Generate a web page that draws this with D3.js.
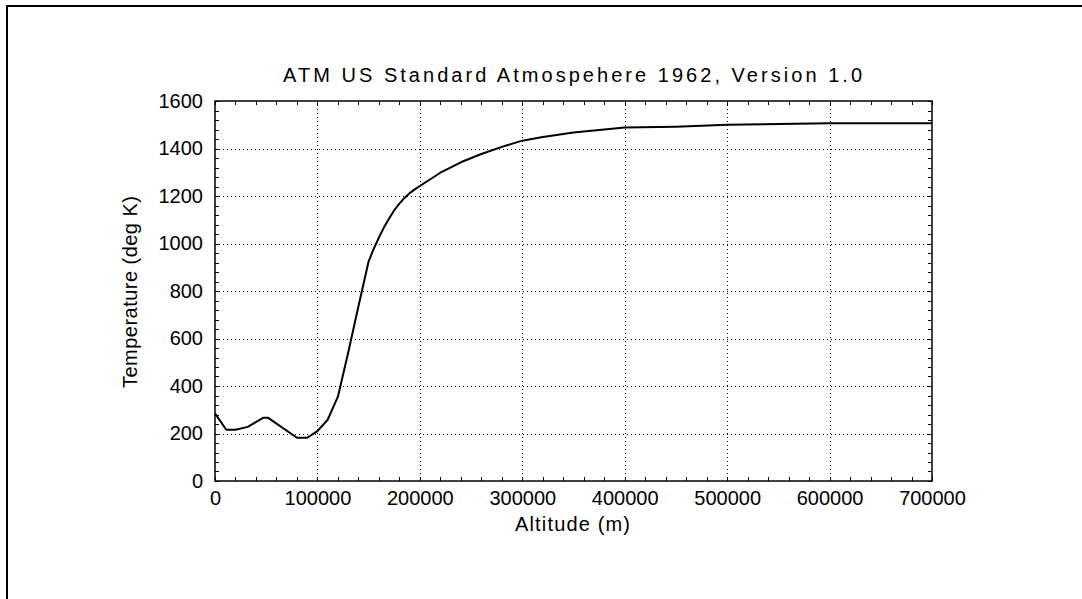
<!DOCTYPE html>
<html><head><meta charset="utf-8">
<script src="https://cdn.jsdelivr.net/npm/d3@7"></script>
<style>
body{margin:0;background:#fff}
text{font-family:"Liberation Sans",Arial,sans-serif;fill:#000}
</style>
</head><body><svg id="c" width="1082" height="599"></svg>
<script>
const altitude = [0,11000,20000,32000,47000,52000,80000,90000,100000,110000,120000,130000,140000,150000,155000,160000,165000,170000,175000,180000,185000,190000,195000,200000,220000,240000,260000,280000,300000,320000,350000,400000,450000,500000,600000,700000];
const temperature = [285,216,216,228,266,266,182,182,210,258,355,540,735,925,978,1025,1068,1105,1140,1168,1192,1212,1228,1242,1298,1342,1377,1407,1433,1448,1467,1488,1492,1500,1506,1506];
const xTicks = [0,100000,200000,300000,400000,500000,600000,700000];
const yTicks = [0,200,400,600,800,1000,1200,1400,1600];
const title = "ATM US Standard Atmospehere 1962, Version 1.0";
const xLabel = "Altitude (m)";
const yLabel = "Temperature (deg K)";

const svg = d3.select("#c");
const L = 215, R = 932, T = 101, B = 481;
const x = d3.scaleLinear().domain([0,700000]).range([L,R]);
const y = d3.scaleLinear().domain([0,1600]).range([B,T]);
const fs = 20;

svg.append("rect").attr("width",1082).attr("height",599).attr("fill","#fff");
// outer frame (top and left visible)
svg.append("path").attr("d","M7,599V6H1082").attr("fill","none").attr("stroke","#000").attr("stroke-width",2);

const xMinor = d3.range(0,700001,20000);
const yMinor = d3.range(0,1601,40);

// grid
const g = svg.append("g");
g.selectAll(".gx").data(xTicks.slice(1,-1)).join("line")
  .attr("x1",d=>Math.round(x(d))+0.5).attr("x2",d=>Math.round(x(d))+0.5)
  .attr("y1",T).attr("y2",B)
  .attr("stroke","#000").attr("stroke-width",1).attr("stroke-dasharray","1,3");
g.selectAll(".gy").data(yTicks.slice(1,-1)).join("line")
  .attr("y1",d=>Math.round(y(d))+0.5).attr("y2",d=>Math.round(y(d))+0.5)
  .attr("x1",L).attr("x2",R)
  .attr("stroke","#000").attr("stroke-width",1).attr("stroke-dasharray","1,3");

// minor ticks
function ticks(sel, data, isX){
  sel.selectAll("line").data(data).join("line")
   .attr("stroke","#000").attr("stroke-width",1)
   .each(function(d){
     const e = d3.select(this);
     if(isX){ const px = Math.round(x(d))+0.5; e.attr("x1",px).attr("x2",px); }
     else { const py = Math.round(y(d))+0.5; e.attr("y1",py).attr("y2",py); }
   });
}
const tb = svg.append("g"); ticks(tb, xMinor, true); tb.selectAll("line").attr("y1",B).attr("y2",B-4);
const tt = svg.append("g"); ticks(tt, xMinor, true); tt.selectAll("line").attr("y1",T).attr("y2",T+4);
const tl = svg.append("g"); ticks(tl, yMinor, false); tl.selectAll("line").attr("x1",L).attr("x2",L+4);
const tr = svg.append("g"); ticks(tr, yMinor, false); tr.selectAll("line").attr("x1",R).attr("x2",R-4);

// axes labels via d3 axis
const ax = svg.append("g").attr("transform",`translate(0,${B})`)
  .call(d3.axisBottom(x).tickValues(xTicks).tickSize(0).tickPadding(10).tickFormat(d3.format("d")));
ax.select(".domain").remove();
ax.selectAll("text").attr("font-size",fs).style("font-family","'Liberation Sans',Arial,sans-serif");
const ay = svg.append("g").attr("transform",`translate(${L},0)`)
  .call(d3.axisLeft(y).tickValues(yTicks).tickSize(0).tickPadding(12).tickFormat(d3.format("d")));
ay.select(".domain").remove();
ay.selectAll("text").attr("font-size",fs).style("font-family","'Liberation Sans',Arial,sans-serif");

// plot frame
svg.append("rect").attr("x",L).attr("y",T).attr("width",R-L).attr("height",B-T)
  .attr("fill","none").attr("stroke","#000").attr("stroke-width",1.5);

// curve
const pts = altitude.map((a,i)=>[a,temperature[i]]);
svg.append("path").datum(pts)
  .attr("d",d3.line().x(d=>x(d[0])).y(d=>y(d[1])))
  .attr("fill","none").attr("stroke","#000").attr("stroke-width",2).attr("stroke-linejoin","round");

// titles
svg.append("text").attr("x",572.5).attr("y",82).attr("text-anchor","middle").attr("font-size",fs)
  .attr("textLength",579).attr("lengthAdjust","spacing").text(title);
svg.append("text").attr("x",572.5).attr("y",531).attr("text-anchor","middle").attr("font-size",fs)
  .attr("textLength",115).attr("lengthAdjust","spacing").text(xLabel);
svg.append("text").attr("transform",`translate(137,292) rotate(-90)`).attr("text-anchor","middle").attr("font-size",fs)
  .attr("textLength",192).attr("lengthAdjust","spacing").text(yLabel);
</script>
</body></html>
